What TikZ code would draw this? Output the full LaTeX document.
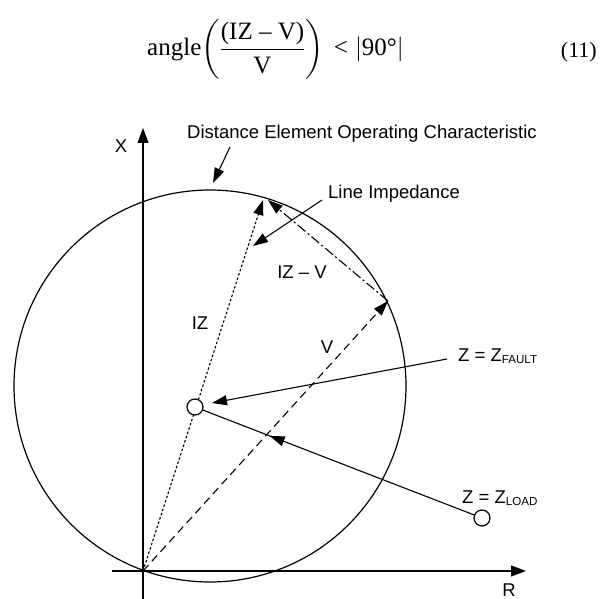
\documentclass[tikz,border=0pt]{standalone}
\usepackage{amsmath}
\usepackage{fontspec}
\newfontfamily\labfont{Liberation Sans}
\newfontfamily\eqfont{Liberation Serif}
\usetikzlibrary{positioning, arrows.meta, decorations.markings, calc}
\newcommand{\zsub}[1]{\raisebox{-2.5pt}{\fontsize{11.6}{13}\selectfont #1}}

\begin{document}
\begin{tikzpicture}[x=1pt, y=-1pt,
    lbl/.style={font=\labfont\fontsize{18.5}{22}\selectfont, inner sep=0pt},
    eqtext/.style={font=\eqfont\fontsize{25}{30}\selectfont, inner sep=0pt},
    axisline/.style={line width=1.2pt, -{Triangle[length=15pt, width=11pt]}},
    pointer/.style={line width=1.1pt, -{Triangle[length=15pt, width=10pt]}},
    zpoint/.style={circle, draw, line width=1.2pt, fill=white, minimum size=16pt, inner sep=0pt}]
    \useasboundingbox (0,0) rectangle (608,599);
    % Equação
    \node[eqtext, anchor=base west] (eq) at (147,56)
      {angle$\left(\dfrac{\text{(IZ – V)}}{\text{V}}\right)\text{\hspace{6pt}<\hspace{3pt}}\left|\text{90°}\right|$};
    \node[font=\eqfont\fontsize{22}{26}\selectfont, inner sep=0pt, anchor=base east] (eqnum) at (597,58) {(11)};
    % Pontos do diagrama
    \coordinate (O) at (143,571);
    \coordinate (Xbot) at (143,599);
    \coordinate (Xtop) at (143,128);
    \coordinate (Rleft) at (112,571);
    \coordinate (Rright) at (526,571);
    \coordinate (IZtip) at (263,200);
    \coordinate (IZend) at (268,200);
    \coordinate (Vtip) at (388,301);
    \coordinate (zf) at (195,407);
    \coordinate (zl) at (482,518);
    % Característica de operação (mho)
    \draw[line width=1.2pt] (210,386) circle (196);
    % Eixos
    \draw[axisline] (Xbot) -- (Xtop);
    \draw[axisline] (Rleft) -- (Rright);
    \node[lbl] (labX) at (121,146) {X};
    \node[lbl] (labR) at (509,590) {R};
    % Vetores IZ, V e IZ - V
    \draw[line width=1.1pt, dash pattern=on 2.5pt off 2pt, -{Triangle[length=15pt, width=10pt]}] (O) -- (IZtip);
    \draw[line width=1.1pt, dash pattern=on 8pt off 5pt, -{Triangle[length=15pt, width=10pt]}] (O) -- (Vtip);
    \draw[line width=1.1pt, dash pattern=on 10pt off 3pt on 2pt off 3pt, -{Triangle[length=15pt, width=10pt]}] (Vtip) -- (IZend);
    \node[lbl] (labIZ) at (200,323) {IZ};
    \node[lbl] (labIZV) at (302,272) {IZ – V};
    \node[lbl] (labV) at (327,347) {V};
    % Rótulos com setas
    \node[lbl, anchor=base west] (labDist) at (187,139) {Distance Element Operating Characteristic};
    \coordinate (distStart) at (230,147);
    \coordinate (distTip) at (213,183);
    \draw[pointer] (distStart) -- (distTip);
    \node[lbl, anchor=base west] (labLine) at (328,199) {Line Impedance};
    \coordinate (lineStart) at (322,200);
    \coordinate (lineTip) at (253,246);
    \draw[pointer] (lineStart) -- (lineTip);
    \node[lbl, anchor=base west] (labFault) at (458,361) {Z = Z\zsub{FAULT}};
    \coordinate (faultStart) at (447,359);
    \coordinate (faultTip) at (212,403);
    \draw[pointer] (faultStart) -- (faultTip);
    % Trajetória da carga para a falta
    \draw[line width=1.1pt, decoration={markings, mark=at position 0.74 with {\arrow{Triangle[length=15pt, width=10pt]}}}, postaction={decorate}] (zl) -- (zf);
    \node[zpoint] (Zfault) at (zf) {};
    \node[zpoint] (Zload) at (zl) {};
    \node[lbl, anchor=base west] (labLoad) at (462,503) {Z = Z\zsub{LOAD}};
\end{tikzpicture}
\end{document}
